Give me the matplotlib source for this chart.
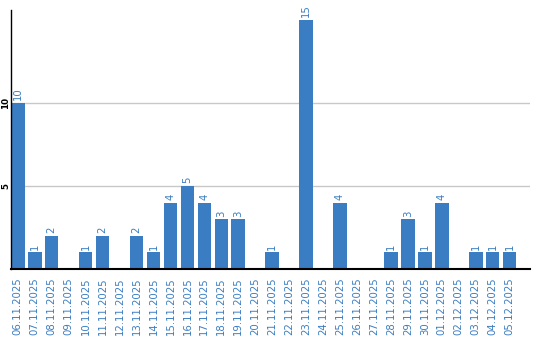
import matplotlib.pyplot as plt

# dates and counts
dates = ['06.11.2025', '07.11.2025', '08.11.2025', '09.11.2025', '10.11.2025',
         '11.11.2025', '12.11.2025', '13.11.2025', '14.11.2025', '15.11.2025',
         '16.11.2025', '17.11.2025', '18.11.2025', '19.11.2025', '20.11.2025',
         '21.11.2025', '22.11.2025', '23.11.2025', '24.11.2025', '25.11.2025',
         '26.11.2025', '27.11.2025', '28.11.2025', '29.11.2025', '30.11.2025',
         '01.12.2025', '02.12.2025', '03.12.2025', '04.12.2025', '05.12.2025']
counts = [10, 1, 2, 0, 1, 2, 0, 2, 1, 4, 5, 4, 3, 3, 0,
          1, 0, 15, 0, 4, 0, 0, 1, 3, 1, 4, 0, 1, 1, 1]
yticks = [5, 10]

blue = '#3a7dc2'

fig = plt.figure(figsize=(5.4, 3.4), dpi=100)
ax = fig.add_axes([11 / 540, 1 - 269 / 340, 519 / 540, 259 / 340])

x = list(range(len(dates)))
ax.bar(x, counts, width=0.8, color=blue, zorder=2)

# value labels above the non-empty bars
for i, v in enumerate(counts):
    if v > 0:
        ax.text(i, v + 0.15, str(v), rotation=90, ha='center', va='bottom',
                color=blue, fontsize=7.3)

ax.set_xlim(-0.4, 30.2)
ax.set_ylim(0, 15.6)
ax.set_xticks(x)
ax.set_xticklabels(dates, rotation=90, color=blue, fontsize=7.3)
ax.set_yticks(yticks)
ax.set_yticklabels([str(t) for t in yticks], rotation=90, fontsize=6.3,
                   fontweight='bold', va='center', ha='right')
ax.tick_params(axis='x', length=0, pad=6)
ax.tick_params(axis='y', length=0, pad=0.5)
ax.grid(axis='y', color='#c8c8c8', linewidth=1, zorder=0)

for s in ['top', 'right']:
    ax.spines[s].set_visible(False)
ax.spines['left'].set_linewidth(1)
ax.spines['bottom'].set_linewidth(1.5)

fig.savefig('out.png', dpi=100)
